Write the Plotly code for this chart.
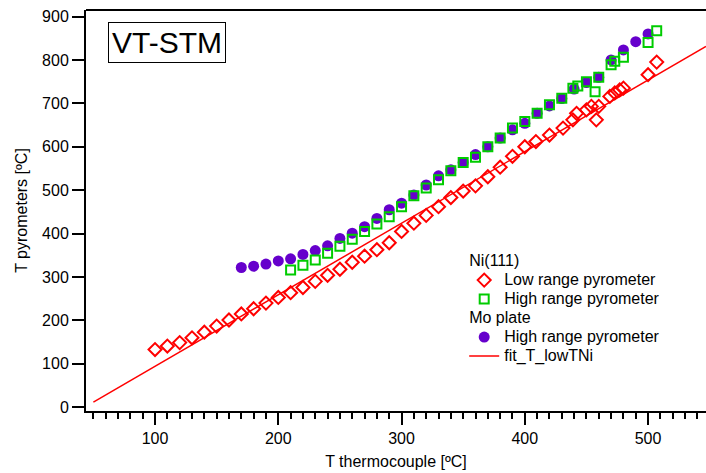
import plotly.graph_objects as go

# ---- data ----
ni_low_x = [100, 110, 120, 130, 140, 150, 160, 170, 180, 190, 200, 210, 220, 230, 240, 250,
            260, 270, 280, 290, 300, 310, 320, 330, 340, 350, 360, 370, 380, 390, 400, 409,
            420, 431, 439, 442, 450, 454, 460, 458, 469, 473, 477, 480, 500, 507]
ni_low_y = [133, 141, 149, 160, 173, 187, 201, 215, 227, 240, 253, 264, 276, 290, 304, 318,
            334, 348, 363, 379, 405, 424, 442, 462, 483, 498, 510, 531, 553, 578, 600, 612,
            627, 643, 662, 677, 685, 693, 693, 662, 716, 724, 731, 735, 766, 795]

ni_high_x = [210, 220, 230, 240, 250, 260, 270, 280, 290, 300, 310, 320, 330, 340, 350, 360,
             370, 380, 390, 400, 410, 420, 430, 439, 443, 450, 457, 460, 470, 473, 480, 500, 507]
ni_high_y = [316, 327, 339, 355, 371, 387, 405, 422, 439, 462, 487, 505, 524, 545, 564, 576,
             600, 620, 643, 658, 677, 697, 712, 735, 740, 750, 727, 760, 789, 797, 806, 840, 867]

mo_high_x = [170, 180, 190, 200, 210, 220, 230, 240, 250, 260, 270, 280, 290, 300, 310, 320,
             330, 340, 350, 360, 370, 380, 390, 400, 410, 420, 430, 440, 450, 460, 470, 480,
             490, 500]
mo_high_y = [322, 325, 330, 337, 342, 352, 361, 372, 389, 401, 416, 435, 455, 470, 489, 512,
             533, 547, 564, 582, 600, 620, 639, 654, 677, 694, 711, 733, 748, 760, 800, 823,
             842, 860]

fit_x = [50, 547]
fit_y = [12, 831]

x_major = [100, 200, 300, 400, 500]
x_mid = [50, 150, 250, 350, 450, 550]
y_ticks = [0, 100, 200, 300, 400, 500, 600, 700, 800, 900]

RED = "#ff0000"
GREEN = "#00cc00"
PURPLE = "#6600cc"
FONT = "Arial, Liberation Sans, sans-serif"


def lbl(t):
    return '<span style="font-size:16px">' + t + '</span>'


fig = go.Figure()

fig.add_trace(go.Scatter(
    x=mo_high_x, y=mo_high_y, mode="markers", name=lbl("High range pyrometer"),
    legendgroup="mo", legendgrouptitle=dict(text=lbl("Mo plate")), legendrank=3,
    marker=dict(symbol="circle", size=11, color=PURPLE, line=dict(width=0))))

fig.add_trace(go.Scatter(
    x=fit_x, y=fit_y, mode="lines", name=lbl("fit_T_lowTNi"),
    legendgroup="mo", legendrank=4,
    line=dict(color=RED, width=1.5)))

fig.add_trace(go.Scatter(
    x=ni_low_x, y=ni_low_y, mode="markers", name=lbl("Low range pyrometer"),
    legendgroup="ni", legendgrouptitle=dict(text=lbl("Ni(111)")), legendrank=1,
    marker=dict(symbol="diamond-open", size=10, color=RED, line=dict(width=2, color=RED))))

fig.add_trace(go.Scatter(
    x=ni_high_x, y=ni_high_y, mode="markers", name=lbl("High range pyrometer"),
    legendgroup="ni", legendrank=2,
    marker=dict(symbol="square-open", size=9, color=GREEN, line=dict(width=2, color=GREEN))))

fig.update_layout(
    width=706, height=473,
    margin=dict(l=86, r=0, t=10, b=62),
    paper_bgcolor="white", plot_bgcolor="white",
    font=dict(family=FONT, size=16, color="black"),
    showlegend=True,
    legend=dict(
        x=0.61, y=0.41, xanchor="left", yanchor="top",
        bgcolor="rgba(0,0,0,0)", borderwidth=0,
        traceorder="grouped", tracegroupgap=0,
        font=dict(family=FONT, size=11.5, color="black"),
        grouptitlefont=dict(family=FONT, size=11.5, color="black"),
    ),
    xaxis=dict(
        range=[44, 547], showgrid=False, zeroline=False,
        showline=True, linecolor="black", linewidth=2, mirror=False,
        tickmode="array", tickvals=x_major, ticks="outside", ticklen=12, tickwidth=1.5,
        tickcolor="black", tickfont=dict(size=16),
        minor=dict(dtick=10, tick0=0, ticks="outside", ticklen=6, tickwidth=1.5, tickcolor="black"),
        title=dict(text="T thermocouple [ºC]", font=dict(size=16), standoff=10),
    ),
    xaxis2=dict(
        range=[44, 547], overlaying="x", anchor="y", side="bottom",
        showgrid=False, zeroline=False, showline=False, showticklabels=False,
        tickmode="array", tickvals=x_mid, ticks="outside", ticklen=9, tickwidth=1.5,
        tickcolor="black",
    ),
    yaxis=dict(
        range=[-8.5, 915], showgrid=False, zeroline=False,
        showline=True, linecolor="black", linewidth=2, mirror=False,
        tickmode="array", tickvals=y_ticks, ticks="outside", ticklen=12, tickwidth=1.5,
        tickcolor="black", tickfont=dict(size=16),
        title=dict(text="T pyrometers [ºC]", font=dict(size=16), standoff=10),
    ),
    shapes=[dict(type="line", xref="paper", yref="paper", x0=0, x1=1, y0=1, y1=1,
                 line=dict(color="black", width=2))],
    annotations=[dict(
        text="VT-STM", xref="paper", yref="paper", x=0.036, y=0.969,
        xanchor="left", yanchor="top", showarrow=False,
        font=dict(family=FONT, size=30, color="black"),
        bordercolor="black", borderwidth=1, borderpad=3, bgcolor="white")],
)

fig.write_html("out.html")
